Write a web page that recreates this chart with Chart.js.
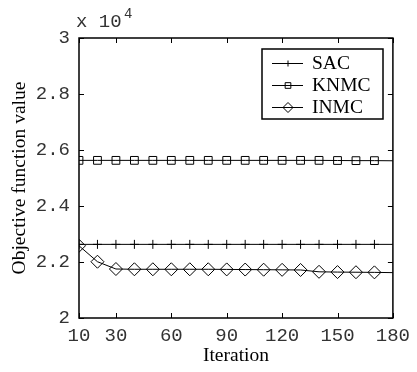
<!DOCTYPE html>
<html>
<head>
<meta charset="utf-8">
<script src="https://cdn.jsdelivr.net/npm/chart.js@4/dist/chart.umd.min.js"></script>
<style>
  body { margin: 0; background: #fff; }
  canvas { display: block; }
</style>
</head>
<body>
<canvas id="obj_chart" width="417" height="372"></canvas>
<script>
// iterations and objective values (raw, shown as x 10^4)
const iterations = [10, 20, 30, 40, 50, 60, 70, 80, 90, 100, 110, 120, 130, 140, 150, 160, 170, 180];
const sac  = [22630, 22630, 22630, 22630, 22630, 22630, 22630, 22630, 22630, 22630, 22630, 22630, 22630, 22630, 22630, 22630, 22630, 22630];
const knmc = [25630, 25630, 25630, 25630, 25630, 25630, 25630, 25630, 25630, 25630, 25630, 25630, 25630, 25630, 25625, 25620, 25620, 25615];
const inmc = [22580, 22010, 21750, 21740, 21740, 21740, 21740, 21740, 21735, 21730, 21725, 21720, 21715, 21650, 21640, 21635, 21630, 21620];
const xTicks = [10, 30, 60, 90, 120, 150, 180];
const yTicks = [20000, 22000, 24000, 26000, 28000, 30000];
const labels = ['SAC', 'KNMC', 'INMC'];
const markers = ['cross', 'rect', 'rectRot'];
const markerSize = [4.5, 5.5, 6.5];

const MONO = "'Liberation Mono', monospace";
const SERIF = "'Liberation Serif', serif";

function pts(vals) {
    return iterations.map(function(x, i) { return {x: x, y: vals[i]}; });
}

function makeSet(i, vals) {
    return {
        label: labels[i],
        data: pts(vals),
        borderColor: '#000',
        backgroundColor: 'rgba(0,0,0,0)',
        borderWidth: 1,
        tension: 0,
        pointStyle: markers[i],
        pointBorderColor: '#000',
        pointBackgroundColor: 'rgba(0,0,0,0)',
        pointBorderWidth: 1,
        // no marker on the last iteration
        pointRadius: function(c) { return c.raw && c.raw.x === 180 ? 0 : markerSize[i]; },
        pointHoverRadius: markerSize[i]
    };
}

// frame, inward ticks, exponent label and legend box
const decor = {
    id: 'decor',
    afterDraw: function(chart) {
        const ctx = chart.ctx;
        const a = chart.chartArea;
        const xs = chart.scales.x, ys = chart.scales.y;
        ctx.save();
        ctx.strokeStyle = '#000';
        ctx.lineWidth = 1.5;
        ctx.strokeRect(a.left, a.top, a.right - a.left, a.bottom - a.top);
        ctx.lineWidth = 1;
        ctx.beginPath();
        xTicks.forEach(function(v) {
            const px = Math.round(xs.getPixelForValue(v)) + 0.5;
            ctx.moveTo(px, a.bottom); ctx.lineTo(px, a.bottom - 5);
            ctx.moveTo(px, a.top); ctx.lineTo(px, a.top + 5);
        });
        yTicks.forEach(function(v) {
            const py = Math.round(ys.getPixelForValue(v)) + 0.5;
            ctx.moveTo(a.left, py); ctx.lineTo(a.left + 5, py);
            ctx.moveTo(a.right, py); ctx.lineTo(a.right - 5, py);
        });
        ctx.stroke();

        // x 10^4
        ctx.fillStyle = '#333';
        ctx.textBaseline = 'alphabetic';
        ctx.textAlign = 'left';
        ctx.font = '19px ' + MONO;
        ctx.fillText('x 10', a.left - 3, 27);
        ctx.font = '14px ' + MONO;
        ctx.fillText('4', a.left + 45, 18);

        // legend
        const bx = 262, by = 49, bw = 121, bh = 70;
        ctx.fillStyle = '#fff';
        ctx.fillRect(bx, by, bw, bh);
        ctx.lineWidth = 1.5;
        ctx.strokeRect(bx, by, bw, bh);
        chart.data.datasets.forEach(function(ds, i) {
            const y = by + 14 + i * 22;
            ctx.strokeStyle = '#000';
            ctx.lineWidth = 1;
            ctx.beginPath();
            ctx.moveTo(bx + 10, y + 0.5); ctx.lineTo(bx + 41, y + 0.5);
            ctx.stroke();
            ctx.fillStyle = 'rgba(0,0,0,0)';
            Chart.helpers.drawPoint(ctx, {pointStyle: ds.pointStyle, radius: markerSize[i] - 1.5, borderWidth: 1}, bx + 26, y + 0.5);
            ctx.fillStyle = '#000';
            ctx.font = '19.5px ' + SERIF;
            ctx.textBaseline = 'middle';
            ctx.fillText(ds.label, bx + 50, y + 1);
        });
        ctx.restore();
    }
};

const chart = new Chart(document.getElementById('obj_chart').getContext('2d'), {
    type: 'line',
    data: {
        datasets: [makeSet(0, sac), makeSet(1, knmc), makeSet(2, inmc)]
    },
    options: {
        responsive: false,
        animation: false,
        events: [],
        layout: { padding: { left: 0, right: 22, top: 38, bottom: 0 } },
        plugins: { legend: { display: false }, tooltip: { enabled: false } },
        scales: {
            x: {
                type: 'linear',
                min: 10, max: 180,
                grid: { display: false, drawTicks: false },
                border: { display: false },
                afterBuildTicks: function(s) { s.ticks = xTicks.map(function(v) { return {value: v}; }); },
                afterFit: function(s) { s.height = 54; },
                ticks: { color: '#333', font: { family: MONO, size: 19 }, padding: 7, maxRotation: 0, autoSkip: false },
                title: { display: true, text: 'Iteration', color: '#000', font: { family: SERIF, size: 19.5 }, padding: { top: 0, bottom: 4 } }
            },
            y: {
                min: 20000, max: 30000,
                grid: { display: false, drawTicks: false },
                border: { display: false },
                afterBuildTicks: function(s) { s.ticks = yTicks.map(function(v) { return {value: v}; }); },
                afterFit: function(s) { s.width = 79; },
                ticks: {
                    color: '#333', font: { family: MONO, size: 19 }, padding: 9,
                    callback: function(v) { return String(Math.round(v / 1000) / 10); }
                },
                title: { display: true, text: 'Objective function value', color: '#000', font: { family: SERIF, size: 19.5 }, padding: { top: 8, bottom: 0 } }
            }
        }
    },
    plugins: [decor]
});
</script>
</body>
</html>
